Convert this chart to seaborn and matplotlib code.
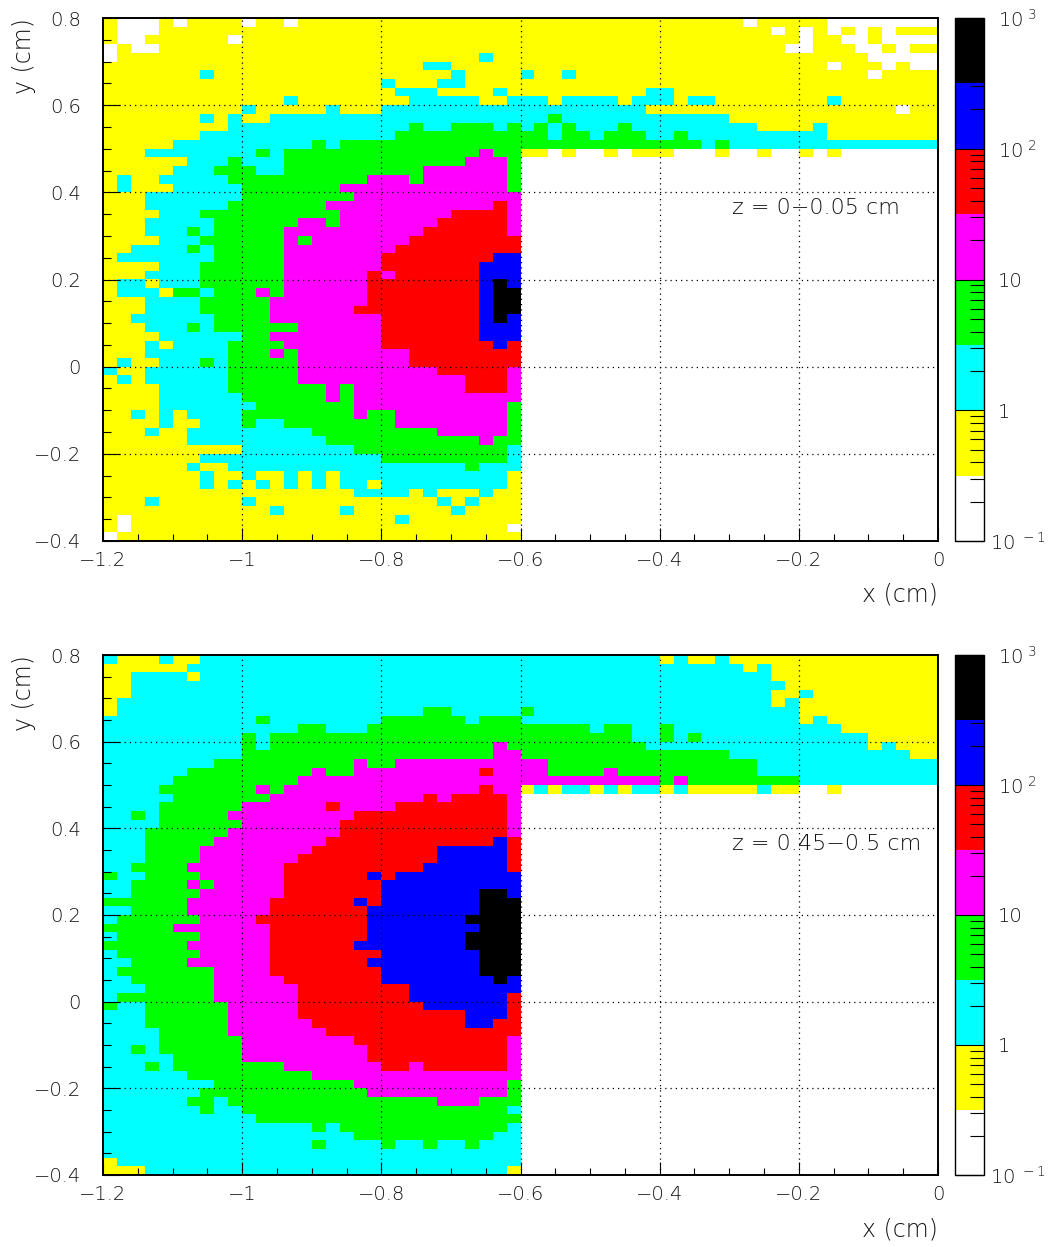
#plot.py
"""Two log-scale x-y maps at different z slices, drawn with seaborn heatmaps"""
import re
import matplotlib
matplotlib.use('Agg')
import matplotlib.pyplot as plt
from matplotlib.colors import ListedColormap, LogNorm
from matplotlib.ticker import LogLocator, NullFormatter
from matplotlib.transforms import ScaledTranslation
import numpy as np
import seaborn as sns

#one value read for each colour band, the rows run from y=0.8 down to y=-0.4
band_colors = ['white', '#ffff00', '#00ffff', '#00ff00', '#ff00ff', '#ff0000', '#0000ff', 'black']
band_values = {'W': 0.18, 'Y': 0.56, 'C': 1.8, 'G': 5.6, 'M': 18, 'R': 56, 'B': 180, 'K': 560}

x_ticks = [-1.2, -1.0, -0.8, -0.6, -0.4, -0.2, 0.0]
x_labels = ['\u22121.2', '\u22121', '\u22120.8', '\u22120.6', '\u22120.4', '\u22120.2', '0']
y_ticks = [0.8, 0.6, 0.4, 0.2, 0.0, -0.2, -0.4]
y_labels = ['0.8', '0.6', '0.4', '0.2', '0', '\u22120.2', '\u22120.4']
cbar_ticks = [0.1, 1, 10, 100, 1000]
cbar_labels = ['10$^{\\ -1}$', '1', '10', '10$^{\\ 2}$', '10$^{\\ 3}$']

#left half of the map (x < -0.6), run lengths per row
top_left = [
    "Y1W3Y1W1Y4W1Y2W1Y16", "Y1W3Y26", "Y1W2Y6W1Y20", "W1Y1W2Y26", "W1Y26C1Y2",
    "Y23C2Y5", "Y7C1Y17C1Y4", "Y20C1Y3C2Y4", "Y21C3Y4C1Y1", "Y13C1Y8C5Y2C1",
    "Y10C1Y5C1Y3C10", "Y7C1Y1C1Y2C18", "Y9C13G1C2G3C1G1", "Y7C14G9", "Y5C10G1C1G13",
    "Y3C8G1C1G14M1G2", "Y6C3G1C3G13M3G1", "Y5C3G3C2G10M6G1", "Y1C1Y2C5G10M3G1M6G1", "Y1C1Y3C5G7M12G1",
    "Y3C7G8M12", "Y3C6G7M12R1M1", "Y4C3G10M8R4M1", "Y3C5G6M2G1M7R5M1", "Y3C3G1C1G5M10R6M1",
    "Y4C3G6M1G1M7R8", "Y2C4G1C1G5M8R9", "Y1C7G5M7R8B2", "Y4C3G6M7R7B3", "Y3C4G6M6R1M1R6B3",
    "Y1C2Y1C3G6M6R8B1K1B1", "Y1C3Y1G2C1G3M1G1M6R8B1K2", "Y3C4G5M7R8B1K2", "Y3C4G5M6R9B1K2", "Y2C6G4M8R7B1K1B1",
    "Y3C3G1C1G6M6R7B3", "Y4C6G2M8R7B3", "Y3C1Y1C4G4M7R8B1R1", "Y3C6G3M1G1M8R8", "Y1C1Y2C3G1C1G5M8R8",
    "C1Y2C6G5M10R5M1", "Y1C1Y1C6G5M12R3M1", "Y4C5G7M1G1M8R3M1", "Y4C6G6M1G1M12", "Y4C7G7M11G1",
    "Y2C1Y1C1Y1C4G8M1G2M8G1", "Y4C1Y2C3G1C2G8M8G1", "Y3C1Y2C9G9M5G1", "Y6C10G11M1G2", "Y10C8G11C1",
    "Y7C13G9C1", "Y6C1Y2C17G1C3", "Y7C1Y2C1Y2C1Y1C1Y1C12Y1", "Y7C1Y1C1Y1C1Y1C1Y1C1Y1C2Y1C9Y1", "Y18C4Y1C1Y3C1Y2",
    "Y3C1Y6C1Y13C1Y1C1Y3", "Y12C1Y4C1Y7C1Y4", "Y1W1Y19C1Y8", "Y1W1Y27W1", "W1Y29",
]
#right half of the map (x > -0.6), everything under these rows is empty
top_right = [
    "Y16W1Y5W8", "Y18W1Y1W1Y1W1Y1W1Y1W1Y3", "Y20W1Y2W2Y1W4", "Y19W2Y3W2Y1W1Y2", "Y25W5",
    "Y22W1Y3W1Y1W2", "C1Y2C1Y21W1Y4", "Y30", "Y9C2Y19", "C2Y1C4Y1C3Y1C2Y8C1Y7",
    "C9Y18W1Y2", "C2G1C12Y15", "C1G1C1G1C3G1C9Y4C1Y8", "G2C1G2C1G3C2G1C10Y8", "G13C1G1C15",
    "Y2W1Y1W2Y1W1Y3W3Y1W2Y1W2Y1W1Y1W7",
]
bottom_left = [
    "C1Y3C1Y2C23", "Y6C24", "Y2C4Y1C23", "Y2C28", "Y2C28",
    "Y1C29", "Y1C22G2C5", "C11G1C8G6C1G3", "C14G2C3G11", "C10G1C1G18",
    "C10G1C1G16M1G1", "C10G18M2", "C8G10M1G2M9", "C6G9M1G2M9R1M2", "C5G9M16",
    "C4G7M1G1M14R1M2", "C5G7M11R1M1R4M1", "C4G6M6R1M4R8M1", "C2G1C1G5M9R11M1", "C4G6M7R12M1",
    "C3G6M8R12M1", "C3G5M8R12B1R1", "C3G4M8R9B5R1", "C3G4M7R10B5R1", "C2G4M7R10B6R1",
    "G1C2G4M6R6B1R1B9", "C2G4M1G1M5R7B10", "C2G5M6R7B7K2B1", "G6M6R6B1R1B7K3", "C2G4M6R7B8K3",
    "C1G6M4R8B7K4", "G5M7R7B8K3", "C1G6M5R7B7K4", "G6M6R6B8K4", "C1G6M5R8B7K3",
    "C2G4M6R7B8K3", "C1G7M4R8B7K3", "C2G6M5R7B8K1B1", "C3G5M6R8B8", "C1G7M6R8B7R1",
    "G1C2G6M5R9B6R1", "C3G6M5R12B3R1", "C3G6M6R11B2R2", "C4G5M7R14", "C4G6M8R11M1",
    "C2G1C1G6M9R10M1", "C5G5M9R10M1", "C3G1C1G8M7R2M1R6M1", "C6G9M15", "C8G10M11G1",
    "C7G12M10G1", "C6G2C1G15M3G3", "C7G1C2G19C1", "C11G19", "C15G1C1G12C1",
    "C18G10C2", "C15G1C4G1C2G1C2G1C3", "C30", "Y1C29", "Y3C26Y1",
]
bottom_right = [
    "C10Y1C1Y2C1Y15", "C16Y1C1Y12", "C18Y12", "C19Y11", "C18Y2C1Y9",
    "C18Y1C1Y10", "G1C19Y10", "C20Y1C1Y8", "G5C1G2C2G1C12Y7", "G8C2G1C1G1C12Y5",
    "G9C16Y1C1Y3", "G15C13Y2", "M2G15C13", "M2G4M1G10C13", "M10G1M1G8C10",
    "Y1C1Y1C2Y1C1Y1C2Y1C1Y5C1Y2W2Y1W7",
]

plt.rcParams['font.family'] = ['DejaVu Sans']
plt.rcParams['font.weight'] = 'light'
plt.rcParams['mathtext.fontset'] = 'dejavusans'
plt.rcParams['mathtext.default'] = 'regular'
plt.rcParams['text.color'] = '#111111'
plt.rcParams['xtick.labelcolor'] = '#111111'
plt.rcParams['ytick.labelcolor'] = '#111111'

def expand(left, right):
    """Turn the run lengths of both halves into a 60x60 array of values"""
    rows = []
    for index, left_row in enumerate(left):
        right_row = right[index] if index < len(right) else 'W30'
        row = []
        for code, count in re.findall(r'([A-Z])(\d+)', left_row + right_row):
            row += [band_values[code]] * int(count)
        rows.append(row)
    return np.array(rows)

def draw_panel(figure, data, top, bottom, note, note_y):
    """Draw one map with its colour bar, sizes are given in pixels"""
    width, height = figure.get_size_inches() * figure.dpi
    ax = figure.add_axes([103 / width, 1 - bottom / height, 835 / width, (bottom - top) / height])
    cax = figure.add_axes([955 / width, 1 - bottom / height, 29 / width, (bottom - top) / height])
    sns.heatmap(data, ax=ax, cbar_ax=cax, cmap=ListedColormap(band_colors),
                norm=LogNorm(vmin=0.1, vmax=1000), xticklabels=False, yticklabels=False)

    #the heatmap counts cells, so ticks go from data units to cell positions
    x_pos = [(x + 1.2) / 0.02 for x in x_ticks]
    y_pos = [(0.8 - y) / 0.02 for y in y_ticks]
    ax.set_xticks(x_pos, x_labels)
    ax.set_yticks(y_pos, y_labels)
    ax.set_xticks(np.arange(0, 60.1, 2.5), minor=True)
    ax.set_yticks(np.arange(0, 60.1, 2.5), minor=True)
    ax.tick_params(axis='x', which='major', direction='in', length=9.5, width=0.8, pad=7.5, labelsize=14, labelrotation=0)
    ax.tick_params(axis='y', which='major', direction='in', length=12, width=0.8, pad=16, labelsize=14, labelrotation=0)
    ax.tick_params(axis='x', which='minor', direction='in', length=5, width=0.8)
    ax.tick_params(axis='y', which='minor', direction='in', length=6, width=0.8)

    for position in x_pos[1:-1]:
        ax.axvline(position, color='black', lw=0.9, ls=(0, (1, 3.2)), zorder=3)
    for position in y_pos[1:-1]:
        ax.axhline(position, color='black', lw=0.9, ls=(0, (1, 3.2)), zorder=3)

    for spine in ax.spines.values():
        spine.set_visible(True)
        spine.set_linewidth(1.4)
        spine.set_color('black')

    figure.text(938 / width, 1 - (bottom + 54) / height, 'x (cm)', ha='right', va='center', fontsize=17)
    figure.text(24 / width, 1 - top / height, 'y (cm)', ha='center', va='top', rotation=90, fontsize=17)
    ax.text(45.2, (0.8 - note_y) / 0.02, note, ha='left', va='center', fontsize=16)

    colorbar = ax.collections[0].colorbar
    colorbar.outline.set_visible(True)
    colorbar.outline.set_linewidth(1.0)
    colorbar.outline.set_edgecolor('black')
    cax.yaxis.set_ticks_position('right')
    cax.set_yticks(cbar_ticks, cbar_labels)
    cax.yaxis.set_minor_locator(LogLocator(base=10, subs=range(2, 10), numticks=12))
    cax.yaxis.set_minor_formatter(NullFormatter())
    cax.tick_params(axis='y', which='major', direction='in', length=21, width=0.8, pad=10, labelsize=14)
    cax.tick_params(axis='y', which='minor', direction='in', length=10, width=0.8)
    #the lowest colour bar label sits a little further left than the others
    lowest = cax.get_yticklabels()[0]
    lowest.set_transform(lowest.get_transform() + ScaledTranslation(-6 / 72, 0, figure.dpi_scale_trans))

def main():
    figure = plt.figure(figsize=(10.5, 12.47), dpi=100, facecolor='white')
    draw_panel(figure, expand(top_left, top_right), 18, 541, 'z = 0\u22120.05 cm', 0.364)
    draw_panel(figure, expand(bottom_left, bottom_right), 655, 1175, 'z = 0.45\u22120.5 cm', 0.364)
    figure.savefig('out.png', dpi=100)

if __name__ == '__main__':
    main()
